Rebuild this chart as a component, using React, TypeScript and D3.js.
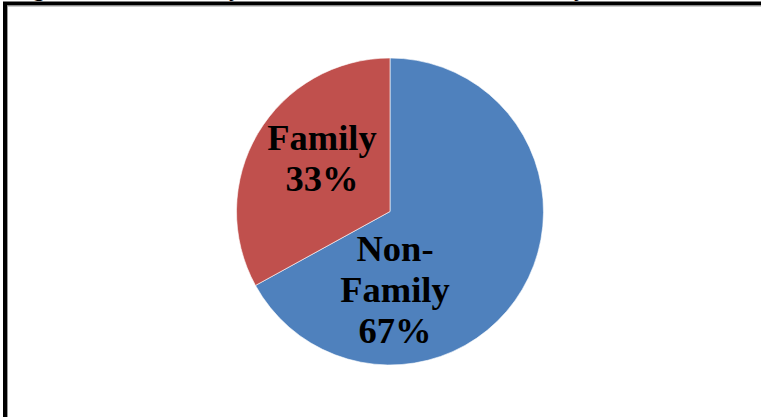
import React from "react";
import * as d3 from "d3";

const categories = ["Non-Family", "Family"];
const values = [67, 33];
const colors = ["#4F81BD", "#C0504D"];
const labelLines = [["Non-", "Family", "67%"], ["Family", "33%"]];

const W = 761;
const H = 417;
const cx = 390;
const cy = 211.5;
const R = 153.5;

export default function App() {
  const pie = d3.pie<number>().sort(null).value((d) => d)(values);
  const arc = d3.arc<d3.PieArcDatum<number>>().innerRadius(0).outerRadius(R);
  const labelOffsets = [
    { dx: 5, dy: 78 },
    { dx: -68, dy: -53 },
  ];
  const lineH = 41;
  return (
    <svg
      width={W}
      height={H}
      style={{ position: "absolute", left: 0, top: 0, background: "#fff" }}
      fontFamily="'Liberation Serif', 'Times New Roman', serif"
    >
      <rect x={0} y={0} width={W} height={H} fill="#fff" />
      {/* cropped caption descenders */}
      <g fontSize={24} fontWeight="bold" fill="#000">
        <text x={33} y={-4}>g</text>
        <text x={229} y={-4}>y</text>
        <text x={574} y={-4}>y</text>
      </g>
      <rect x={5} y={3.5} width={W + 20} height={H + 20} fill="none" stroke="#000" strokeWidth={4} />
      <line x1={7.5} y1={6} x2={W + 5} y2={6} stroke="#9a9a9a" strokeWidth={1} />
      <line x1={7.5} y1={6} x2={7.5} y2={H + 5} stroke="#9a9a9a" strokeWidth={1} />
      <g transform={`translate(${cx},${cy})`}>
        {pie.map((p, i) => (
          <path key={categories[i]} d={arc(p) || ""} fill={colors[i]} stroke="#fff" strokeWidth={0.6} />
        ))}
        {pie.map((p, i) => {
          const lines = labelLines[i];
          const off = labelOffsets[i];
          const startY = off.dy - ((lines.length - 1) * lineH) / 2;
          return (
            <text
              key={"l" + i}
              textAnchor="middle"
              fontSize={36.5}
              fontWeight="bold"
              fill="#000"
            >
              {lines.map((t, j) => (
                <tspan key={j} x={off.dx} y={startY + j * lineH + 12}>
                  {t}
                </tspan>
              ))}
            </text>
          );
        })}
      </g>
    </svg>
  );
}
